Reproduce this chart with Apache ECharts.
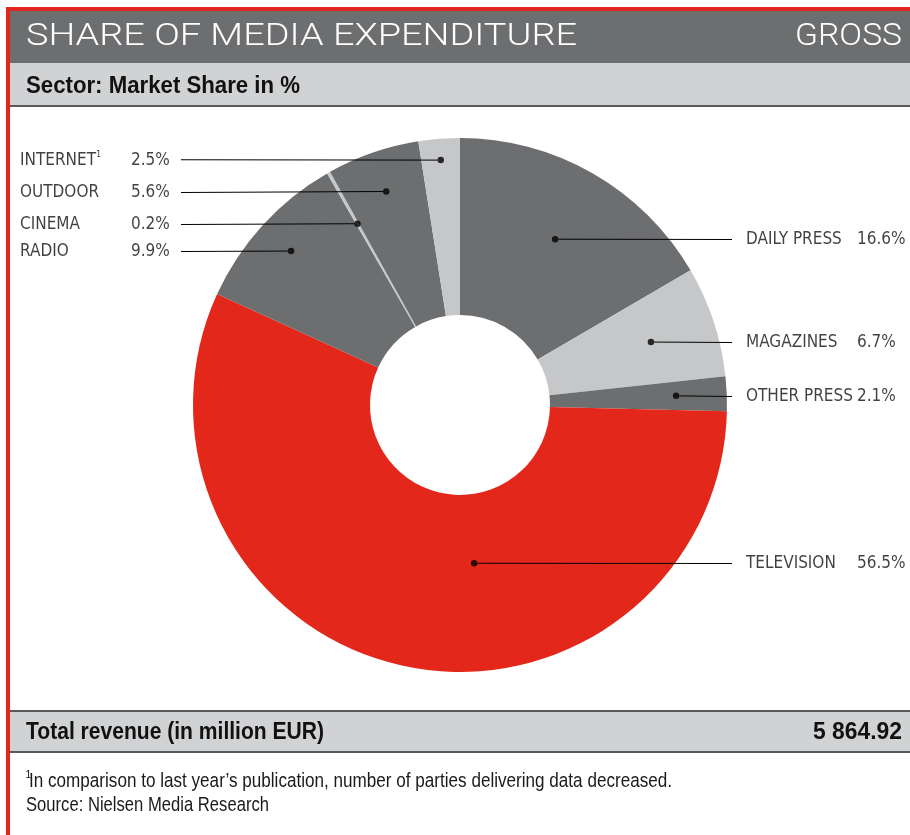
<!DOCTYPE html>
<html><head><meta charset="utf-8">
<script src="https://cdn.jsdelivr.net/npm/echarts@6/dist/echarts.min.js"></script>
<style>html,body{margin:0;padding:0;background:#fff}#c{width:910px;height:835px}</style>
</head><body><div id="c"></div>
<script>
// ---- data ----
const categories = ['DAILY PRESS', 'MAGAZINES', 'OTHER PRESS', 'TELEVISION', 'RADIO', 'CINEMA', 'OUTDOOR', 'INTERNET'];
const shares = [16.6, 6.7, 2.1, 56.5, 9.9, 0.2, 5.6, 2.5];
const noteMarks = ['', '', '', '', '', '', '', '1'];
const titleText = 'SHARE OF MEDIA EXPENDITURE';
const titleTag = 'GROSS';
const subtitleText = 'Sector: Market Share in %';
const totalLabel = 'Total revenue (in million EUR)';
const totalValue = '5 864.92';
const footnoteMark = '1';
const footnoteText = 'In comparison to last year\u2019s publication, number of parties delivering data decreased.';
const sourceText = 'Source: Nielsen Media Research';

// ---- styles / layout ----
const sliceColors = ['#6d6e70', '#c6c7c9', '#6d6e70', '#e3281b', '#6d6e70', '#c6c7c9', '#6d6e70', '#c6c7c9'];
const labelSide = ['right', 'right', 'right', 'right', 'left', 'left', 'left', 'left'];
const anchorRadius = [0.716, 0.753, 0.81, 0.595, 0.856, 0.78, 0.846, 0.92];
const anchorShift = [0, 0, 0, -5.02, 0, 0, 0, 0];
const NARROW = '"Liberation Sans Narrow", "DejaVu Sans Condensed", "Liberation Sans", sans-serif';
const SANS = '"Liberation Sans", Arial, sans-serif';
const THIN = 'Roboto, "Liberation Sans", sans-serif';
const CENTER = [460, 405], R_OUT = 267, R_IN = 90;
const LABEL_FS = 17, NAME_W = 111, PCT_W = 50, LEAD_GAP = 14;
const textColor = '#111111';

const total = shares.reduce((a, b) => a + b, 0);
const cum = [];
shares.reduce((acc, v, i) => { cum[i] = acc; return acc + v; }, 0);

const mctx = document.createElement('canvas').getContext('2d');
function measure(text, font) { mctx.font = font; return mctx.measureText(text).width; }

// text element squeezed/stretched horizontally to a target width (emulates condensed face)
function fitText(x, y, text, font, targetW, align, fill) {
  const sx = targetW / measure(text, font);
  return { type: 'text', x: x, y: y, scaleX: sx, scaleY: 1, originX: 0, originY: 0,
    style: { text: text, font: font, fill: fill, textAlign: align, textVerticalAlign: 'middle' } };
}

const anchors = shares.map((v, i) => ({
  name: categories[i],
  value: [anchorRadius[i], cum[i] + v / 2 + anchorShift[i]]
}));

function labelText(p) {
  const i = p.dataIndex;
  const pct = shares[i].toFixed(1) + '%';
  const lead = labelSide[i] === 'right' ? '{lg|}' : '';
  if (noteMarks[i]) {
    return lead + '{nn|' + categories[i] + '}{s|' + noteMarks[i] + '}{g|}{p|' + pct + '}';
  }
  return lead + '{n|' + categories[i] + '}{p|' + pct + '}';
}
function gapWidth() {
  const i = noteMarks.findIndex(m => m);
  if (i < 0) return 0;
  const w = measure(categories[i], LABEL_FS + 'px ' + NARROW);
  return NAME_W - w - 7;
}

const chart = echarts.init(document.getElementById('c'), null, { renderer: 'canvas' });
chart.setOption({
  animation: false,
  backgroundColor: '#ffffff',
  polar: { center: CENTER, radius: R_OUT },
  angleAxis: { type: 'value', min: 0, max: total, startAngle: 90, clockwise: true, show: false },
  radiusAxis: { type: 'value', min: 0, max: 1, show: false },
  graphic: [
    { type: 'rect', shape: { x: 6, y: 7, width: 4, height: 828 }, style: { fill: '#e3261c' } },
    { type: 'rect', shape: { x: 6, y: 7, width: 904, height: 4 }, style: { fill: '#e3261c' } },
    { type: 'rect', shape: { x: 10, y: 11, width: 900, height: 52 }, style: { fill: '#6d6e70' } },
    { type: 'rect', shape: { x: 10, y: 63, width: 900, height: 42 }, style: { fill: '#d1d2d4' } },
    { type: 'rect', shape: { x: 10, y: 105, width: 900, height: 2 }, style: { fill: '#58595b' } },
    { type: 'rect', shape: { x: 10, y: 710, width: 900, height: 42 }, style: { fill: '#d1d2d4' } },
    { type: 'rect', shape: { x: 10, y: 710, width: 900, height: 2 }, style: { fill: '#58595b' } },
    { type: 'rect', shape: { x: 10, y: 751, width: 900, height: 2 }, style: { fill: '#58595b' } },
    fitText(26, 37, titleText, '300 32px ' + THIN, 551, 'left', '#ffffff'),
    fitText(902, 37, titleTag, '300 32px ' + THIN, 107, 'right', '#ffffff'),
    fitText(26, 86, subtitleText, 'bold 24px ' + SANS, 274, 'left', '#111111'),
    fitText(26, 732, totalLabel, 'bold 24px ' + SANS, 298, 'left', '#111111'),
    fitText(902, 732, totalValue, 'bold 24px ' + SANS, 89, 'right', '#111111'),
    { type: 'text', x: 25.5, y: 775, style: { text: footnoteMark, fill: textColor, font: '10px ' + SANS, textVerticalAlign: 'middle' } },
    fitText(29, 781, footnoteText, '20.5px ' + SANS, 643, 'left', '#1a1a1a'),
    fitText(26, 805, sourceText, '20.5px ' + SANS, 243, 'left', '#1a1a1a')
  ],
  series: [
    {
      type: 'pie',
      center: CENTER,
      radius: [R_IN, R_OUT],
      startAngle: 90,
      clockwise: true,
      silent: true,
      label: { show: false },
      labelLine: { show: false },
      emphasis: { disabled: true },
      itemStyle: { borderWidth: 0 },
      data: categories.map((c, i) => ({ name: c, value: shares[i], itemStyle: { color: sliceColors[i] } })),
      z: 2
    },
    {
      type: 'scatter',
      coordinateSystem: 'polar',
      symbol: 'circle',
      symbolSize: 6.5,
      itemStyle: { color: '#000000' },
      silent: true,
      z: 5,
      data: anchors,
      label: {
        show: true,
        formatter: labelText,
        color: textColor,
        fontFamily: NARROW,
        fontSize: LABEL_FS,
        rich: {
          lg: { width: LEAD_GAP, lineHeight: 20 },
          n: { width: NAME_W, fontFamily: NARROW, fontSize: LABEL_FS, color: textColor, lineHeight: 20 },
          nn: { fontFamily: NARROW, fontSize: LABEL_FS, color: textColor, lineHeight: 20 },
          s: { fontFamily: NARROW, fontSize: 9, color: textColor, lineHeight: 10, verticalAlign: 'top', width: 7 },
          g: { width: gapWidth(), lineHeight: 20 },
          p: { width: PCT_W, fontFamily: NARROW, fontSize: LABEL_FS, color: textColor, lineHeight: 20 }
        }
      },
      labelLine: { show: true, lineStyle: { color: '#000000', width: 1 } },
      labelLayout: function (p) {
        const i = p.dataIndex;
        const cx = p.rect.x + p.rect.width / 2;
        const cy = p.rect.y + p.rect.height / 2;
        const ly = Math.round(cy) + 0.5;
        if (labelSide[i] === 'right') {
          return { x: 732, y: ly, align: 'left', verticalAlign: 'middle', labelLinePoints: [[cx, ly], [732, ly], [732, ly]] };
        }
        return { x: 20, y: ly, align: 'left', verticalAlign: 'middle', labelLinePoints: [[cx, ly], [181, ly], [181, ly]] };
      }
    }
  ]
});
</script>
</body></html>
